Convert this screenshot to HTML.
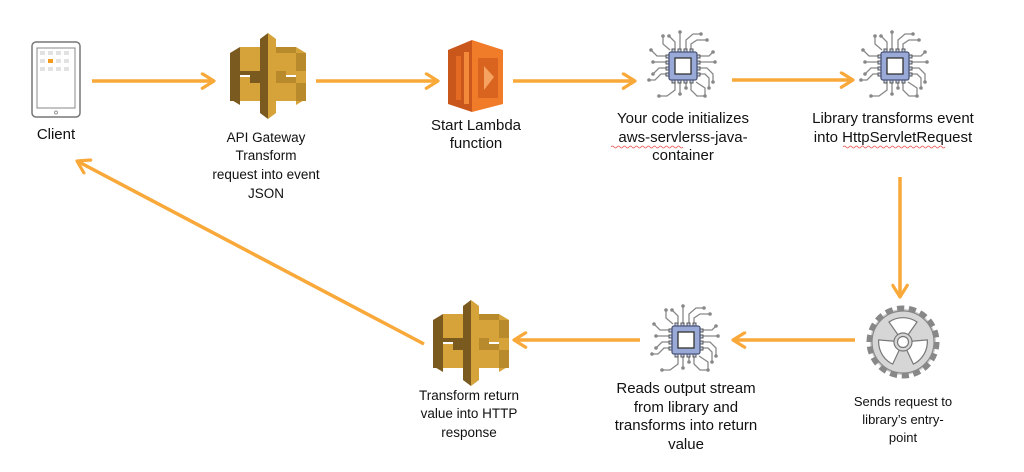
<!DOCTYPE html>
<html><head><meta charset="utf-8"><style>
html,body{margin:0;padding:0;background:#fff;}
svg{display:block;}
text{font-family:"Liberation Sans",Arial,sans-serif;fill:#111;text-anchor:middle;}
</style></head><body>
<svg width="1024" height="472" viewBox="0 0 1024 472" xmlns="http://www.w3.org/2000/svg">
<defs>
<g id="gw">
  <polygon points="0,20 10,14 10,72 0,66" fill="#7a5a1f"/>
  <polygon points="10,14 30,14 30,28 10,28" fill="#d5a33a"/>
  <polygon points="10,44 30,44 30,58 10,58" fill="#d5a33a"/>
  <polygon points="66,14 76,20 76,66 66,72" fill="#d5a33a"/>
  <polygon points="46,14 66,14 66,28 46,28" fill="#b98a2b"/>
  <polygon points="46,44 66,44 66,58 46,58" fill="#b98a2b"/>
  <rect x="10" y="28" width="10" height="14" fill="#7a5a1f"/>
  <rect x="56" y="28" width="10" height="14" fill="#d5a33a"/>
  <rect x="0" y="20" width="10" height="18" fill="#7a5a1f"/>
  <rect x="10" y="20" width="20" height="18" fill="#d5a33a"/>
  <rect x="46" y="20" width="20" height="18" fill="#d5a33a"/>
  <rect x="66" y="20" width="10" height="18" fill="#b98a2b"/>
  <rect x="0" y="50" width="10" height="18" fill="#7a5a1f"/>
  <rect x="10" y="50" width="20" height="18" fill="#d5a33a"/>
  <rect x="46" y="50" width="20" height="18" fill="#d5a33a"/>
  <rect x="66" y="50" width="10" height="18" fill="#b98a2b"/>
  <polygon points="30,6 38,0 38,86 30,80" fill="#7a5a1f"/>
  <polygon points="38,0 46,6 46,80 38,86" fill="#d5a33a"/>
  <rect x="20" y="38" width="10" height="12" fill="#7a5a1f"/>
  <rect x="46" y="38" width="10" height="12" fill="#b98a2b"/>
</g>
<g id="chip" stroke="#888" stroke-width="1.3" fill="none">
  <path d="M-8,-16 V-24 L-14,-30 M-3,-16 V-34 M3,-16 V-26 L10,-32 H18 M8,-16 V-22 L14,-26 H24 M-13,-16 L-20,-22 V-30
           M-16,-10 H-26 L-32,-16 M-16,-4 H-30 M-16,2 H-24 L-30,8 M-16,8 H-22 L-28,14 H-34
           M16,-10 H26 L30,-14 M16,-4 H32 M16,2 H24 L30,8 V16 M16,8 H22 L26,12 V22
           M-8,16 V24 L-16,30 H-24 M-3,16 V28 M3,16 V22 M8,16 V24 L14,30 H22 M13,16 L22,22 V30"/>
  <g fill="#888" stroke="none">
    <circle cx="-14" cy="-30" r="1.8"/><circle cx="-3" cy="-34" r="1.8"/><circle cx="18" cy="-32" r="1.8"/><circle cx="24" cy="-26" r="1.8"/><circle cx="-20" cy="-30" r="1.8"/>
    <circle cx="-32" cy="-16" r="1.8"/><circle cx="-30" cy="-4" r="1.8"/><circle cx="-30" cy="8" r="1.8"/><circle cx="-34" cy="14" r="1.8"/>
    <circle cx="30" cy="-14" r="1.8"/><circle cx="32" cy="-4" r="1.8"/><circle cx="30" cy="16" r="1.8"/><circle cx="26" cy="22" r="1.8"/>
    <circle cx="-24" cy="30" r="1.8"/><circle cx="-3" cy="28" r="1.8"/><circle cx="3" cy="22" r="1.8"/><circle cx="22" cy="30" r="1.8"/>
  </g>
  <g stroke="#555" stroke-width="1" fill="#c9d3ee">
    <rect x="-11" y="-17" width="3" height="4"/><rect x="-5" y="-17" width="3" height="4"/><rect x="1" y="-17" width="3" height="4"/><rect x="7" y="-17" width="3" height="4"/>
    <rect x="-11" y="13" width="3" height="4"/><rect x="-5" y="13" width="3" height="4"/><rect x="1" y="13" width="3" height="4"/><rect x="7" y="13" width="3" height="4"/>
    <rect x="-17" y="-11" width="4" height="3"/><rect x="-17" y="-5" width="4" height="3"/><rect x="-17" y="1" width="4" height="3"/><rect x="-17" y="7" width="4" height="3"/>
    <rect x="13" y="-11" width="4" height="3"/><rect x="13" y="-5" width="4" height="3"/><rect x="13" y="1" width="4" height="3"/><rect x="13" y="7" width="4" height="3"/>
  </g>
  <rect x="-14" y="-14" width="28" height="28" rx="2" fill="#9aaad8" stroke="#4b5577" stroke-width="1.3"/>
  <rect x="-8" y="-8" width="16" height="16" fill="#fff" stroke="#333" stroke-width="1.3"/>
</g>
<marker id="ah" viewBox="0 0 12 12" refX="10" refY="6" markerWidth="5" markerHeight="5" markerUnits="strokeWidth" orient="auto">
  <path d="M2,1 L10,6 L2,11" fill="none" stroke="#F9A83A" stroke-width="2.2" stroke-linecap="round" stroke-linejoin="round"/>
</marker>
</defs>

<g stroke="#F9A83A" stroke-width="3.5" fill="none" marker-end="url(#ah)">
  <line x1="92" y1="81" x2="214" y2="81"/>
  <line x1="316" y1="81" x2="438" y2="81"/>
  <line x1="513" y1="81" x2="635" y2="81"/>
  <line x1="732" y1="80" x2="853" y2="80"/>
  <line x1="900" y1="177" x2="900" y2="297"/>
  <line x1="855" y1="340" x2="733" y2="340"/>
  <line x1="640" y1="340" x2="514" y2="340"/>
  <line x1="424" y1="344" x2="77" y2="161"/>
</g>

<rect x="32" y="42" width="48" height="75" rx="4" fill="#fff" stroke="#777" stroke-width="1.5"/>
<rect x="37" y="48" width="38" height="60" fill="#fff" stroke="#888" stroke-width="1"/>
<circle cx="56" cy="112.5" r="1.5" fill="none" stroke="#999"/>
<g fill="#e2e2e2">
  <rect x="40" y="51" width="5" height="4"/><rect x="48" y="51" width="5" height="4"/><rect x="56" y="51" width="5" height="4"/><rect x="64" y="51" width="5" height="4"/>
  <rect x="40" y="59" width="5" height="4"/><rect x="56" y="59" width="5" height="4"/><rect x="64" y="59" width="5" height="4"/>
  <rect x="40" y="67" width="5" height="4"/><rect x="48" y="67" width="5" height="4"/><rect x="56" y="67" width="5" height="4"/><rect x="64" y="67" width="5" height="4"/>
</g>
<rect x="48" y="59" width="5" height="4" fill="#F39A1F"/>
<text x="56" y="139" font-size="15">Client</text>

<use href="#gw" x="230" y="33"/>
<g font-size="13.5">
<text x="266" y="142">API Gateway</text>
<text x="266" y="160">Transform</text>
<text x="266" y="179">request into event</text>
<text x="266" y="198">JSON</text>
</g>

<polygon points="448,50 472,40 472,112 448,104" fill="#c9561a"/>
<polygon points="472,40 503,50 503,104 472,112" fill="#f07c2a"/>
<rect x="456" y="56" width="5" height="44" fill="#e56a22"/>
<rect x="464" y="52" width="5" height="52" fill="#f28a3a"/>
<polygon points="478,58 498,58 498,98 478,98" fill="#d9641f"/>
<polygon points="484,66 494,77 484,90" fill="#f6a261"/>
<text x="476" y="130" font-size="15">Start Lambda</text>
<text x="476" y="148" font-size="15">function</text>

<use href="#chip" x="683" y="66"/>
<g font-size="15">
<text x="683" y="123">Your code initializes</text>
<text x="683" y="142">aws-servlerss-java-</text>
<text x="683" y="160">container</text>
<text x="893" y="123">Library transforms event</text>
<text x="893" y="142">into HttpServletRequest</text>
</g>
<path d="M611,147 q1.5,-2 3,0 t3,0 t3,0 t3,0 t3,0 t3,0 t3,0 t3,0 t3,0 t3,0 t3,0 t3,0 t3,0 t3,0 t3,0 t3,0 t3,0 t3,0 t3,0 t3,0 t3,0 t3,0 t3,0 t3,0" stroke="#e55" stroke-width="0.8" fill="none"/>
<path d="M843,147 q1.5,-2 3,0 t3,0 t3,0 t3,0 t3,0 t3,0 t3,0 t3,0 t3,0 t3,0 t3,0 t3,0 t3,0 t3,0 t3,0 t3,0 t3,0 t3,0 t3,0 t3,0 t3,0 t3,0 t3,0 t3,0 t3,0 t3,0 t3,0 t3,0 t3,0 t3,0 t3,0 t3,0 t3,0 t3,0" stroke="#e55" stroke-width="0.8" fill="none"/>

<use href="#chip" x="895" y="66"/>

<g transform="translate(903,342)">
  <circle r="33" fill="#cfcfcf" stroke="#888" stroke-width="7" stroke-dasharray="7 4.5"/>
  <circle r="31" fill="#d6d6d6" stroke="#888" stroke-width="1.2"/>
  <g fill="#fff" stroke="#777" stroke-width="1.2">
    <path d="M0,0 L-14,-20 A25,25 0 0 1 14,-20 Z"/>
    <path d="M0,0 L-14,-20 A25,25 0 0 1 14,-20 Z" transform="rotate(120)"/>
    <path d="M0,0 L-14,-20 A25,25 0 0 1 14,-20 Z" transform="rotate(240)"/>
  </g>
  <circle r="9" fill="#d6d6d6" stroke="#777" stroke-width="1.2"/>
  <circle r="5.5" fill="#fff" stroke="#777" stroke-width="1.2"/>
</g>
<g font-size="13">
<text x="903" y="406">Sends request to</text>
<text x="903" y="424">library’s entry-</text>
<text x="903" y="442">point</text>
</g>

<use href="#chip" x="686" y="340"/>
<g font-size="15">
<text x="686" y="393">Reads output stream</text>
<text x="686" y="412">from library and</text>
<text x="686" y="430">transforms into return</text>
<text x="686" y="449">value</text>
</g>

<use href="#gw" x="433" y="300"/>
<g font-size="13.5">
<text x="469" y="400">Transform return</text>
<text x="469" y="418">value into HTTP</text>
<text x="469" y="437">response</text>
</g>
</svg>
</body></html>
